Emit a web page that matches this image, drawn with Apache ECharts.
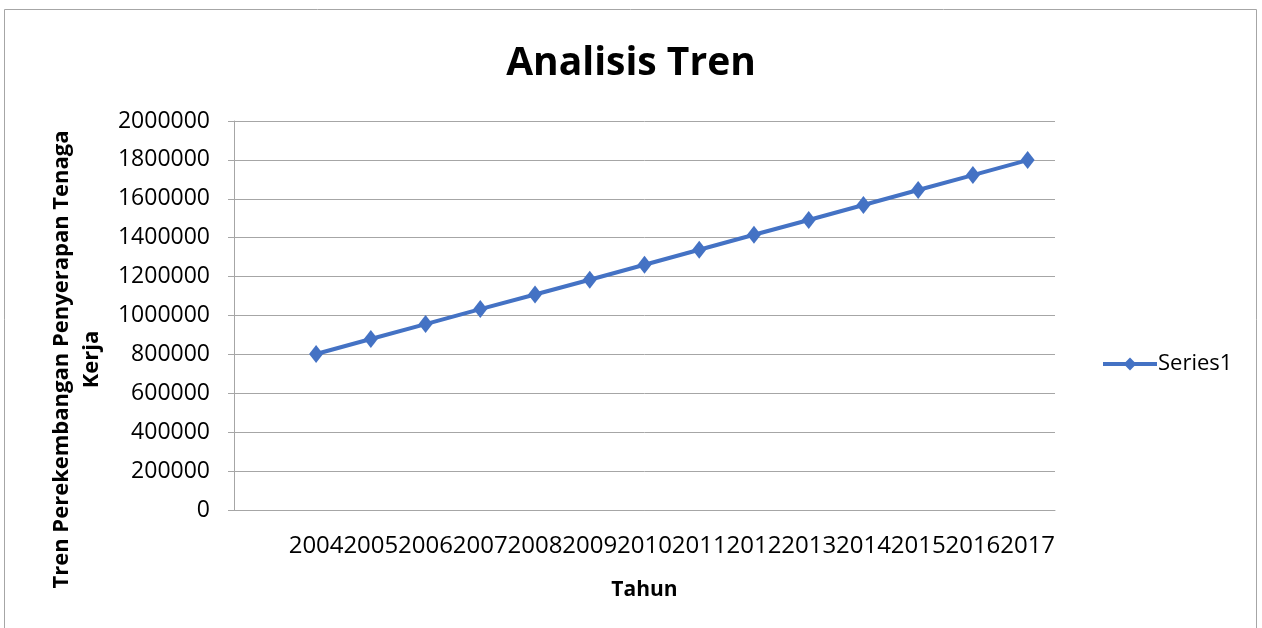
<!DOCTYPE html>
<html lang="en">
<head>
    <meta charset="UTF-8">
    <title>Analisis Tren</title>
    <script src="https://cdn.jsdelivr.net/npm/echarts@6/dist/echarts.min.js" type="text/javascript"></script>
</head>
<body>
<style>
    html, body {
        margin: 0;
        height: 100%;
        width: 100%;
        background: #fff;
    }

    #main {
        width: 1262px;
        height: 628px;
    }
</style>
<div id="main"></div>
<script type="text/javascript">
    // first category is empty in the source sheet, so the line starts one slot in
    var years = ['', '2004', '2005', '2006', '2007', '2008', '2009', '2010',
        '2011', '2012', '2013', '2014', '2015', '2016', '2017']
    var series1 = [null, 802000, 879000, 956000, 1033000, 1108000, 1184000, 1261000,
        1338000, 1415000, 1491000, 1568000, 1645000, 1722000, 1799000]
    var yTicks = [0, 200000, 400000, 600000, 800000, 1000000, 1200000, 1400000,
        1600000, 1800000, 2000000]

    var font = '"Open Sans", sans-serif'
    var myChart = echarts.init(document.getElementById('main'))

    var option = {
        backgroundColor: '#fff',
        animation: false,
        title: {
            text: 'Analisis Tren',
            left: 'center',
            top: 39,
            textStyle: {fontFamily: font, fontWeight: 'bold', fontSize: 39, color: '#000'}
        },
        graphic: [{
            type: 'rect',
            shape: {x: 4.5, y: 9.5, width: 1252, height: 640},
            style: {fill: 'none', stroke: '#a6a6a6', lineWidth: 1},
            silent: true
        }],
        legend: {
            data: ['Series1'],
            left: 1096,
            top: 348,
            itemWidth: 54,
            itemHeight: 16,
            itemGap: 6,
            lineStyle: {width: 4},
            textStyle: {fontFamily: font, fontSize: 22, color: '#000', padding: [0, 0, 0, -4]}
        },
        grid: {left: 234, right: 207, top: 121, height: 389},
        xAxis: {
            type: 'category',
            data: years,
            boundaryGap: true,
            name: 'Tahun',
            nameLocation: 'middle',
            nameGap: 70,
            nameTextStyle: {fontFamily: font, fontWeight: 'bold', fontSize: 21, color: '#000'},
            axisLine: {lineStyle: {color: '#a6a6a6'}},
            axisTick: {show: false},
            axisLabel: {interval: 0, margin: 24, fontFamily: font, fontSize: 24, color: '#000'}
        },
        yAxis: {
            type: 'value',
            min: yTicks[0],
            max: yTicks[yTicks.length - 1],
            interval: yTicks[1] - yTicks[0],
            name: 'Tren Perekembangan Penyerapan Tenaga\nKerja',
            nameLocation: 'middle',
            nameGap: 126,
            nameTextStyle: {
                fontFamily: font, fontWeight: 'bold', fontSize: 22, color: '#000', lineHeight: 30,
                padding: [0, 88, 0, 0]
            },
            axisLine: {show: true, lineStyle: {color: '#a6a6a6'}},
            axisTick: {show: true, length: 6, lineStyle: {color: '#a6a6a6'}},
            axisLabel: {
                margin: 24, fontFamily: font, fontSize: 23, color: '#000',
                formatter: function (v) { return String(v) }
            },
            splitLine: {lineStyle: {color: '#a6a6a6', width: 1}}
        },
        series: [{
            name: 'Series1',
            type: 'line',
            data: series1,
            symbol: 'diamond',
            symbolSize: [14, 18],
            color: '#4472c4',
            lineStyle: {width: 4, color: '#4472c4'},
            itemStyle: {color: '#4472c4'}
        }]
    }
    myChart.setOption(option)
</script>
</body>
</html>
